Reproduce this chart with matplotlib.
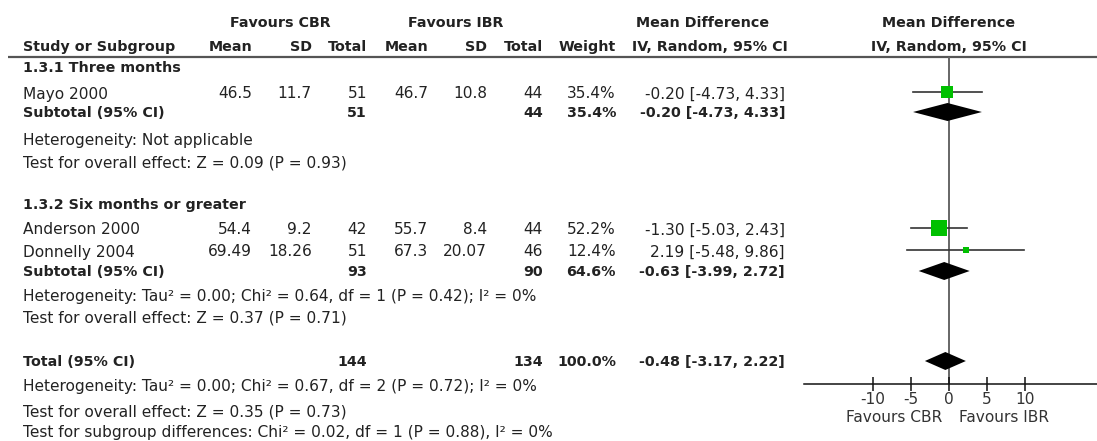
import numpy as np
import matplotlib
matplotlib.use("Agg")
import matplotlib.pyplot as plt

plt.rcParams['font.family'] = ['DejaVu Sans']

# ---- study data ----
studies = ["Mayo 2000", "Anderson 2000", "Donnelly 2004"]
cbr_mean = ["46.5", "54.4", "69.49"]
cbr_sd = ["11.7", "9.2", "18.26"]
cbr_n = [51, 42, 51]
ibr_mean = ["46.7", "55.7", "67.3"]
ibr_sd = ["10.8", "8.4", "20.07"]
ibr_n = [44, 44, 46]
weights = [35.4, 52.2, 12.4]
md = [-0.20, -1.30, 2.19]
md_lo = [-4.73, -5.03, -5.48]
md_hi = [4.33, 2.43, 9.86]

# ---- pooled estimates ----
pooled_labels = ["Subtotal (95% CI)", "Subtotal (95% CI)", "Total (95% CI)"]
pooled_cbr_n = [51, 93, 144]
pooled_ibr_n = [44, 90, 134]
pooled_w = [35.4, 64.6, 100.0]
pooled_md = [-0.20, -0.63, -0.48]
pooled_lo = [-4.73, -3.99, -3.17]
pooled_hi = [4.33, 2.72, 2.22]

group_titles = ["1.3.1 Three months", "1.3.2 Six months or greater"]
group_stats = [
    ["Heterogeneity: Not applicable",
     "Test for overall effect: Z = 0.09 (P = 0.93)"],
    ["Heterogeneity: Tau\u00b2 = 0.00; Chi\u00b2 = 0.64, df = 1 (P = 0.42); I\u00b2 = 0%",
     "Test for overall effect: Z = 0.37 (P = 0.71)"],
]
total_stats = [
    "Heterogeneity: Tau\u00b2 = 0.00; Chi\u00b2 = 0.67, df = 2 (P = 0.72); I\u00b2 = 0%",
    "Test for overall effect: Z = 0.35 (P = 0.73)",
    "Test for subgroup differences: Chi\u00b2 = 0.02, df = 1 (P = 0.88), I\u00b2 = 0%",
]
axis_ticks = [-10, -5, 0, 5, 10]
side_labels = ["Favours CBR", "Favours IBR"]

# ---- layout (figure pixels) ----
W, H = 1097, 441
TXT = '#222222'
FS = 11.1
FSB = 10.3
study_rows = [94, 230, 252]
title_rows = [68, 205]
pooled_rows = [113, 272, 362]
stat_rows = [[140, 163], [297, 318]]
total_stat_rows = [387, 412, 433]
col_x = dict(cm=252, csd=312, cn=367, im=428, isd=487, iN=543, w=616, md=785)
LEFT = 23

fig = plt.figure(figsize=(W / 100, H / 100), dpi=100)
ax = fig.add_axes([0, 0, 1, 1])
ax.set_xlim(0, W)
ax.set_ylim(H, 0)
ax.axis('off')


def put(x, y, s, ha='left', bold=False, color=TXT):
    ax.text(x, y, s, ha=ha, va='center', fontsize=FSB if bold else FS, color=color,
            fontweight='bold' if bold else 'normal')


# column headers
put(280, 23, "Favours CBR", ha='center', bold=True)
put(456, 23, "Favours IBR", ha='center', bold=True)
put(703, 23, "Mean Difference", ha='center', bold=True)
put(949, 23, "Mean Difference", ha='center', bold=True)
put(LEFT, 47, "Study or Subgroup", bold=True)
for key, lab in [('cm', 'Mean'), ('csd', 'SD'), ('cn', 'Total'), ('im', 'Mean'),
                 ('isd', 'SD'), ('iN', 'Total'), ('w', 'Weight')]:
    put(col_x[key], 47, lab, ha='right', bold=True)
put(788, 47, "IV, Random, 95% CI", ha='right', bold=True)
put(949, 47, "IV, Random, 95% CI", ha='center', bold=True)
ax.plot([8, W], [57, 57], color='#555555', lw=1.6, solid_capstyle='butt')

# group titles and statistics
for t, y in zip(group_titles, title_rows):
    put(LEFT, y, t, bold=True)
for stats, rows in zip(group_stats, stat_rows):
    for s, y in zip(stats, rows):
        put(LEFT, y, s)
for s, y in zip(total_stats, total_stat_rows):
    put(LEFT, y, s)

# study rows
for i, y in enumerate(study_rows):
    put(LEFT, y, studies[i])
    put(col_x['cm'], y, cbr_mean[i], ha='right')
    put(col_x['csd'], y, cbr_sd[i], ha='right')
    put(col_x['cn'], y, str(cbr_n[i]), ha='right')
    put(col_x['im'], y, ibr_mean[i], ha='right')
    put(col_x['isd'], y, ibr_sd[i], ha='right')
    put(col_x['iN'], y, str(ibr_n[i]), ha='right')
    put(col_x['w'], y, f"{weights[i]:.1f}%", ha='right')
    put(col_x['md'], y, f"{md[i]:.2f} [{md_lo[i]:.2f}, {md_hi[i]:.2f}]", ha='right')

# pooled rows
for i, y in enumerate(pooled_rows):
    put(LEFT, y, pooled_labels[i], bold=True)
    put(col_x['cn'], y, str(pooled_cbr_n[i]), ha='right', bold=True)
    put(col_x['iN'], y, str(pooled_ibr_n[i]), ha='right', bold=True)
    put(col_x['w'], y, f"{pooled_w[i]:.1f}%", ha='right', bold=True)
    put(col_x['md'], y, f"{pooled_md[i]:.2f} [{pooled_lo[i]:.2f}, {pooled_hi[i]:.2f}]",
        ha='right', bold=True)

# ---- forest panel ----
x0_px, px_per_unit = 949, 7.6
xmin, xmax = -19.1, 19.5
axis_y, top_y = 384, 57
fx = fig.add_axes([(x0_px + xmin * px_per_unit) / W, (H - axis_y) / H,
                   (xmax - xmin) * px_per_unit / W, (axis_y - top_y) / H])
fx.set_xlim(xmin, xmax)
fx.set_ylim(axis_y, top_y)
fx.patch.set_alpha(0)
for side in ['top', 'right', 'left']:
    fx.spines[side].set_visible(False)
fx.spines['bottom'].set_color('#111111')
fx.spines['bottom'].set_linewidth(1.1)
fx.set_yticks([])
fx.set_xticks(axis_ticks)
fx.set_xticklabels([str(t) for t in axis_ticks])
fx.tick_params(axis='x', direction='inout', length=10, width=1.1, color='#111111',
               labelsize=FS, labelcolor='#333333', pad=1)

fx.axvline(0, color='#666666', lw=1.4, zorder=1)

for i, y in enumerate(study_rows):
    ym = y - 2
    fx.plot([md_lo[i], md_hi[i]], [ym, ym], color='#333333', lw=1.2, zorder=2)
    side = 4 + 0.23 * weights[i]
    fx.plot(md[i], ym, marker='s', ms=side * 0.72, color='#00C000',
            markeredgewidth=0, zorder=3)

for i, y in enumerate(pooled_rows):
    yd = y - 1
    fx.fill([pooled_lo[i], pooled_md[i], pooled_hi[i], pooled_md[i]],
            [yd, yd - 9, yd, yd + 9], color='black', lw=0, zorder=3)

put(942, 418, side_labels[0], ha='right', color='#333333')
put(959, 418, side_labels[1], ha='left', color='#333333')

fig.savefig("out.png", dpi=100)
